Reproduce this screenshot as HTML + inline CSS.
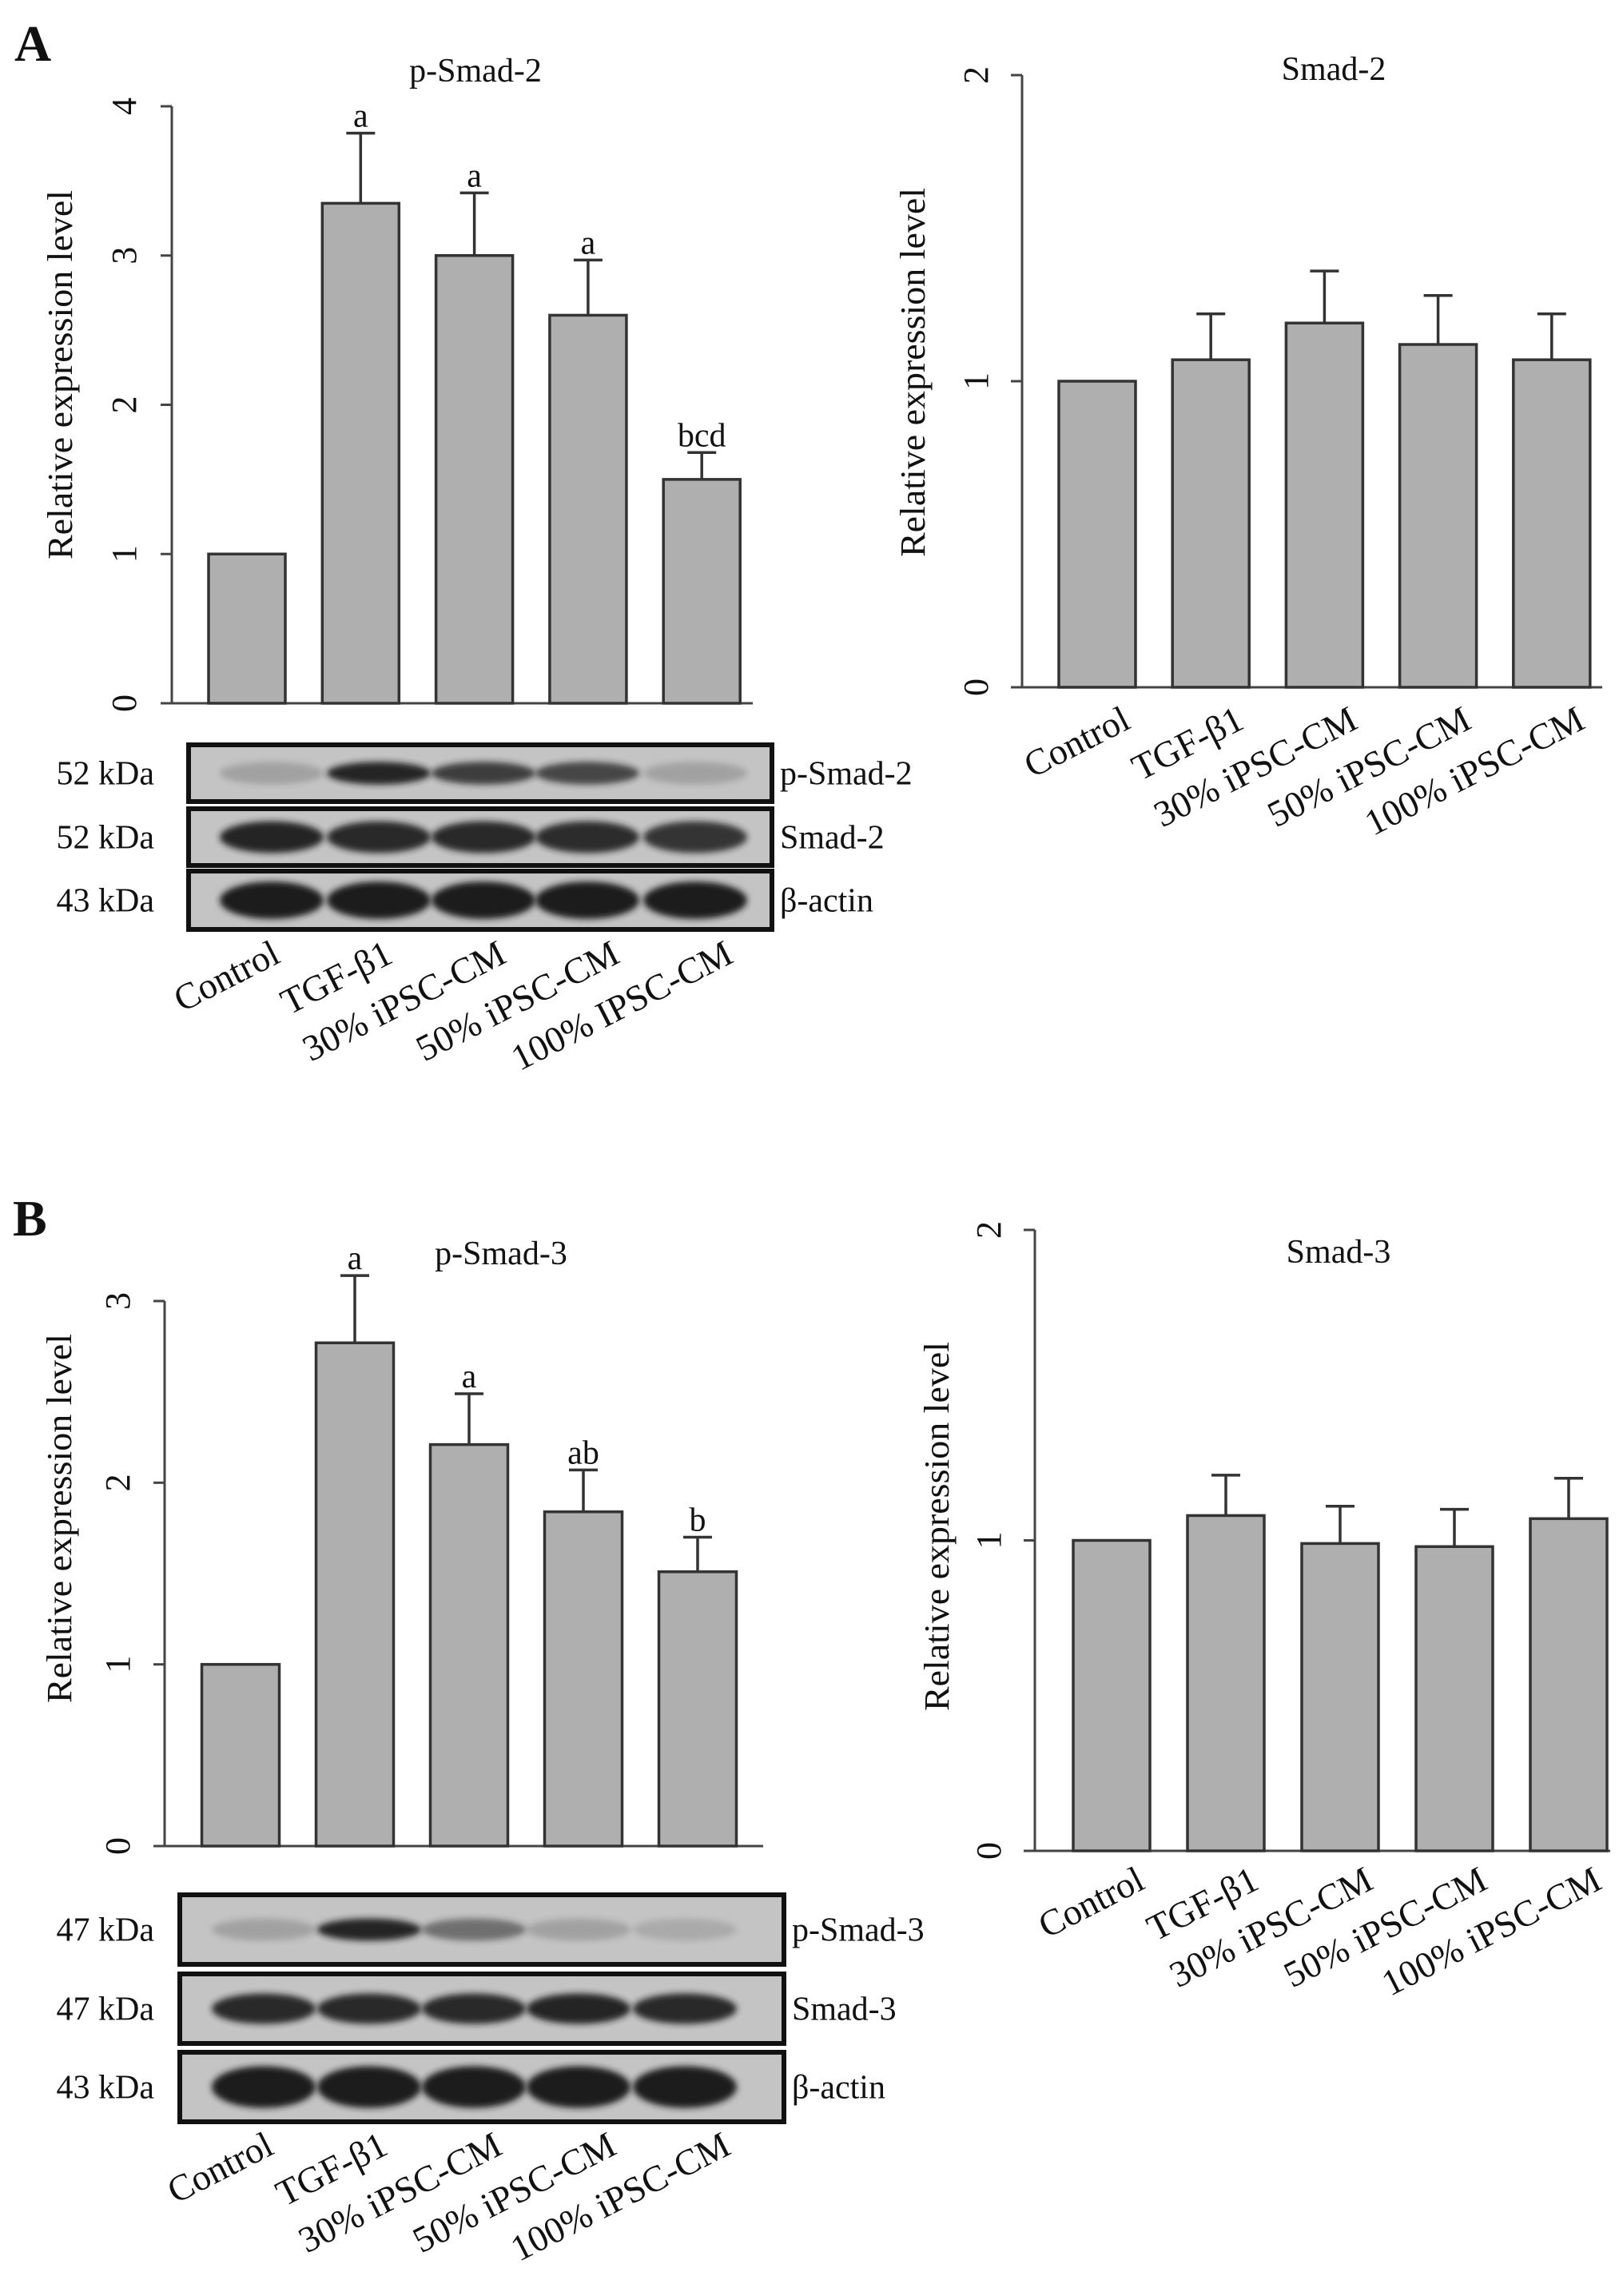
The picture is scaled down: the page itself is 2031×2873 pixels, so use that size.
<!DOCTYPE html>
<html><head><meta charset="utf-8"><style>
html,body{margin:0;padding:0;background:#fff}
svg text{font-family:"Liberation Serif",serif;fill:#111}
</style></head><body>
<svg id="fig" width="2031" height="2868" viewBox="0 0 2031 2868" xmlns="http://www.w3.org/2000/svg">
<defs><filter id="blur" x="-20%" y="-50%" width="140%" height="200%"><feGaussianBlur stdDeviation="4"/></filter></defs>
<text x="18" y="76" font-size="64" font-weight="bold">A</text>
<text x="16" y="1546" font-size="64" font-weight="bold">B</text>
</svg>
<script>
const categories = ["Control","TGF-\u03b21","30% iPSC-CM","50% iPSC-CM","100% iPSC-CM"];
const categoriesA = ["Control","TGF-\u03b21","30% iPSC-CM","50% iPSC-CM","100% IPSC-CM"];
const pSmad2Values = [1.0, 3.35, 3.0, 2.6, 1.5];
const pSmad2Err = [0, 0.47, 0.42, 0.37, 0.18];
const pSmad2Letters = ["", "a", "a", "a", "bcd"];
const smad2Values = [1.0, 1.07, 1.19, 1.12, 1.07];
const smad2Err = [0, 0.15, 0.17, 0.16, 0.15];
const pSmad3Values = [1.0, 2.77, 2.21, 1.84, 1.51];
const pSmad3Err = [0, 0.37, 0.28, 0.23, 0.19];
const pSmad3Letters = ["", "a", "a", "ab", "b"];
const smad3Values = [1.0, 1.08, 0.99, 0.98, 1.07];
const smad3Err = [0, 0.13, 0.12, 0.12, 0.13];
const ticks4 = ["0","1","2","3","4"];
const ticks3 = ["0","1","2","3"];
const ticks2 = ["0","1","2"];
const blotA_p = [0.2, 0.95, 0.8, 0.75, 0.2];
const blotA_t = [0.95, 0.92, 0.92, 0.9, 0.85];
const blotA_b = [1, 1, 1, 1, 1];
const blotB_p = [0.2, 0.95, 0.5, 0.2, 0.15];
const blotB_t = [0.92, 0.92, 0.92, 0.95, 0.92];
const blotB_b = [1, 1, 1, 1, 1];

const NS = "http://www.w3.org/2000/svg";
const svg = document.getElementById('fig');
function mk(tag, attrs, parent, txt){
  const e = document.createElementNS(NS, tag);
  for (const k in attrs) e.setAttribute(k, attrs[k]);
  if (txt !== undefined) e.textContent = txt;
  (parent||svg).appendChild(e);
  return e;
}

function chart(c){
  const g = mk('g', {});
  
  
  const y = v => c.y0 - (v / c.ymax) * (c.y0 - c.ytop);
  const x = i => c.x1 + c.step * i;
  const t = mk('text', {x:c.titleX, y:c.titleY, 'font-size':42, 'text-anchor':'middle'}, g, c.title);
  
  
  const yl = mk('text', {x:0, y:0, 'font-size':44, 'text-anchor':'middle', textLength:c.ylLen, lengthAdjust:'spacingAndGlyphs', transform:`translate(${c.ylX},${c.ylY}) rotate(-90)`}, g, 'Relative expression level');
  
  
  const ax = mk('path', {d:`M${c.ax},${c.ytop} L${c.ax},${c.y0} L${c.axEnd},${c.y0}`, stroke:'#444', 'stroke-width':3, fill:'none'}, g);
  
  
  c.ticks.forEach((lab, i) => {
    const v = i * c.tickStep;
    const ty = y(v);
    const tk = mk('line', {x1:c.ax-14, x2:c.ax, y1:ty, y2:ty, stroke:'#444', 'stroke-width':3}, g);
    
    
    const tl = mk('text', {x:0, y:0, 'font-size':44, 'text-anchor':'middle', transform:`translate(${c.tickX},${ty}) rotate(-90)`}, g, lab);
    
    
  });
  c.values.forEach((v, i) => {
    const bx = x(i) - c.bw/2;
    const b = mk('rect', {x:bx, y:y(v), width:c.bw, height:c.y0 - y(v), fill:'#afafaf', stroke:'#333', 'stroke-width':3.5}, g);
    
    
    if (c.err[i] > 0){
      const top = y(v + c.err[i]);
      const e = mk('path', {d:`M${x(i)},${y(v)} L${x(i)},${top} M${x(i)-18},${top} L${x(i)+18},${top}`, stroke:'#333', 'stroke-width':3.5, fill:'none'}, g);
      
      
    }
    if (c.letters && c.letters[i]){
      const l = mk('text', {x:x(i), y:y(v + c.err[i]) - 8, 'font-size':42, 'text-anchor':'middle'}, g, c.letters[i]);
      
      
    }
    if (c.xlabY){
      const xl = mk('text', {x:0, y:0, 'font-size':46, 'text-anchor':'end', transform:`translate(${x(i)+44},${c.xlabY}) rotate(-27)`}, g, c.cats[i]);
      
      
    }
  });
}

function blot(b){
  const g = mk('g', {});
  
  
  b.rows.forEach((r, ri) => {
    const s = mk('rect', {x:b.x0, y:r.top, width:b.x1-b.x0, height:r.bot-r.top, fill:'#c4c4c4', stroke:'#111', 'stroke-width':6}, g);
    
    
    const h = r.bot - r.top;
    r.vals.forEach((v, i) => {
      const e = mk('ellipse', {cx:b.lanes[i], cy:r.top + h*0.5, rx:b.laneW/2, ry:h*r.ry, fill:'#1e1e1e', opacity:v, filter:'url(#blur)'}, g);
      
      
    });
    const kl = mk('text', {x:193, y:r.top + h*0.5 + 14, 'font-size':42, 'text-anchor':'end'}, g, r.kda);
    
    
    const pl = mk('text', {x:b.x1+10, y:r.top + h*0.5 + 14, 'font-size':42}, g, r.label);
    
    
  });
  b.cats.forEach((cat, i) => {
    const xl = mk('text', {x:0, y:0, 'font-size':46, 'text-anchor':'end', transform:`translate(${b.labX[i]},${b.labY}) rotate(-27)`}, g, cat);
    
    
  });
}

chart({name:'chart-p-smad-2', title:'p-Smad-2', titleX:595, titleY:102, ylX:90, ylY:469, ylLen:462,
  ax:215, axEnd:942, ytop:133, y0:880, ymax:4, ticks:ticks4, tickStep:1, tickX:170,
  x1:309, step:142.3, bw:96, values:pSmad2Values, err:pSmad2Err, letters:pSmad2Letters});
blot({name:'blot-a', x0:236, x1:966, lanes:[340,474,605,735,870], laneW:130, cats:categoriesA,
  labX:[353,494,636,778,920], labY:1203,
  rows:[{top:932,bot:1003,vals:blotA_p,ry:0.2,kda:'52 kDa',label:'p-Smad-2'},
        {top:1012,bot:1083,vals:blotA_t,ry:0.28,kda:'52 kDa',label:'Smad-2'},
        {top:1090,bot:1163,vals:blotA_b,ry:0.32,kda:'43 kDa',label:'\u03b2-actin'}]});
chart({name:'chart-smad-2', title:'Smad-2', titleX:1669, titleY:100, ylX:1157, ylY:466, ylLen:462,
  ax:1279, axEnd:2005, ytop:94, y0:860, ymax:2, ticks:ticks2, tickStep:1, tickX:1236,
  x1:1373, step:142.2, bw:96, values:smad2Values, err:smad2Err, cats:categories, xlabY:910});
chart({name:'chart-p-smad-3', title:'p-Smad-3', titleX:627, titleY:1582, ylX:89, ylY:1900, ylLen:462,
  ax:206, axEnd:955, ytop:1628, y0:2310, ymax:3, ticks:ticks3, tickStep:1, tickX:162,
  x1:301, step:143, bw:97, values:pSmad3Values, err:pSmad3Err, letters:pSmad3Letters});
blot({name:'blot-b', x0:225, x1:981, lanes:[330,462,593,724,857], laneW:130, cats:categories,
  labX:[345,488,631,774,917], labY:2694,
  rows:[{top:2371,bot:2458,vals:blotB_p,ry:0.16,kda:'47 kDa',label:'p-Smad-3'},
        {top:2470,bot:2557,vals:blotB_t,ry:0.22,kda:'47 kDa',label:'Smad-3'},
        {top:2568,bot:2655,vals:blotB_b,ry:0.3,kda:'43 kDa',label:'\u03b2-actin'}]});
chart({name:'chart-smad-3', title:'Smad-3', titleX:1675, titleY:1580, ylX:1187, ylY:1910, ylLen:462,
  ax:1295, axEnd:2015, ytop:1539, y0:2316, ymax:2, ticks:ticks2, tickStep:1, tickX:1252,
  x1:1391, step:143, bw:96, values:smad3Values, err:smad3Err, cats:categories, xlabY:2362});
</script>
</body></html>
